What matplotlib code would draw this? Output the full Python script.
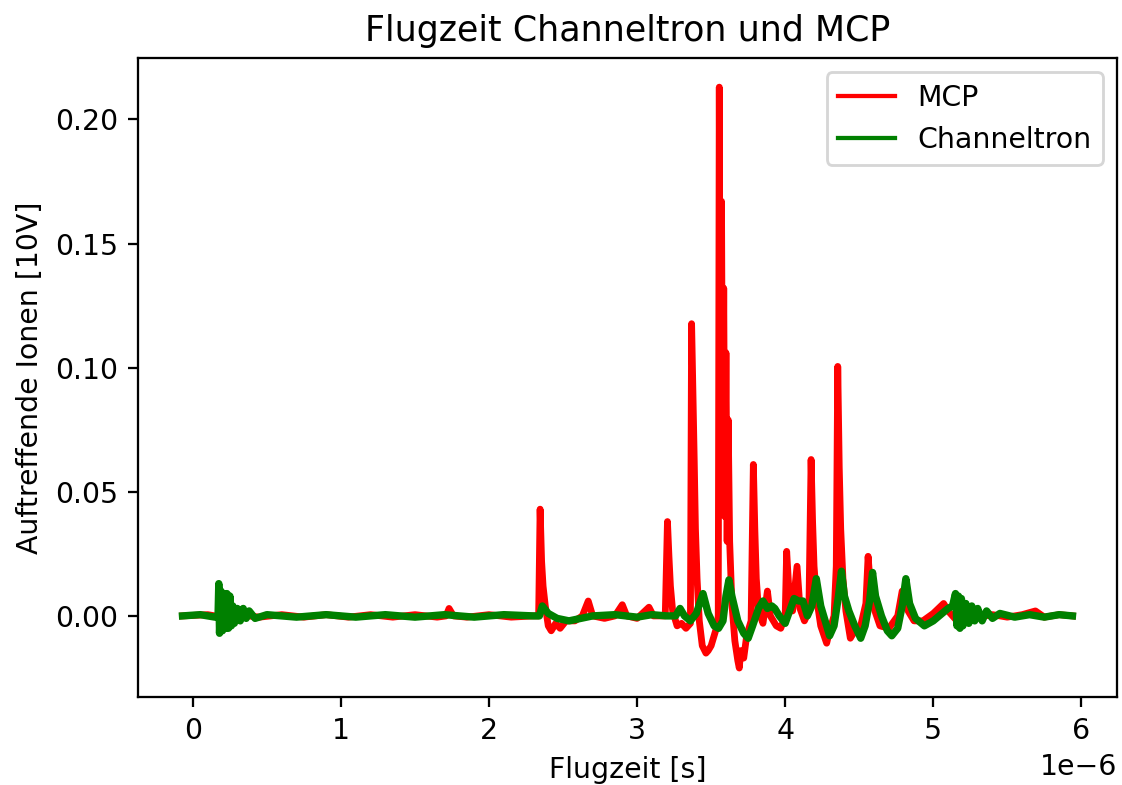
import matplotlib
matplotlib.use("Agg")
import matplotlib.pyplot as plt
import numpy as np

# flight time in microseconds, signal in units of 10 V
mcp_t = [-0.07, 0.10, 0.20, 0.30, 0.45, 0.60, 0.75, 0.90, 1.05, 1.20, 1.35, 1.50,
         1.65, 1.71, 1.73, 1.76, 1.85, 2.00, 2.15, 2.30, 2.335, 2.345, 2.355, 2.365,
         2.38, 2.40, 2.42, 2.45, 2.48, 2.52, 2.58, 2.63, 2.67, 2.70, 2.78, 2.85,
         2.90, 2.93, 3.00, 3.08, 3.11, 3.19, 3.205, 3.215, 3.225, 3.24, 3.27, 3.30,
         3.33, 3.36, 3.368, 3.378, 3.386, 3.394, 3.405, 3.42, 3.44, 3.465, 3.48, 3.50,
         3.52, 3.54, 3.548, 3.555, 3.562, 3.57, 3.578, 3.585, 3.592, 3.60, 3.608, 3.615,
         3.625, 3.64, 3.66, 3.68, 3.69, 3.70, 3.72, 3.74, 3.77, 3.785, 3.795, 3.805,
         3.82, 3.85, 3.88, 3.90, 3.94, 3.97, 4.00, 4.01, 4.03, 4.05, 4.08, 4.10,
         4.13, 4.16, 4.175, 4.185, 4.195, 4.21, 4.24, 4.28, 4.30, 4.33, 4.345, 4.355,
         4.365, 4.375, 4.39, 4.41, 4.44, 4.47, 4.51, 4.545, 4.56, 4.575, 4.60, 4.64,
         4.70, 4.76, 4.79, 4.81, 4.83, 4.87, 4.93, 5.00, 5.07, 5.10, 5.16, 5.22,
         5.30, 5.40, 5.50, 5.60, 5.69, 5.75, 5.85, 5.94]
mcp_v = [0.000, 0.0005, -0.0005, 0.0005, -0.0005, 0.0005, -0.0005, 0.0005, -0.0005, 0.0005, -0.0005, 0.0005,
         -0.0005, 0.000, 0.003, 0.000, -0.0005, 0.0005, -0.0005, 0.000, 0.000, 0.043, 0.022, 0.012,
         0.004, -0.004, -0.006, -0.003, -0.005, -0.002, -0.002, 0.000, 0.006, 0.000, -0.001, 0.000,
         0.0045, 0.000, -0.001, 0.0035, 0.000, 0.000, 0.038, 0.024, 0.012, 0.002, -0.004, -0.003,
         -0.005, -0.003, 0.1177, 0.087, 0.062, 0.035, 0.015, -0.002, -0.012, -0.015, -0.014, -0.012,
         -0.008, -0.004, 0.000, 0.213, 0.060, 0.167, 0.050, 0.132, 0.040, 0.106, 0.030, 0.079,
         0.030, 0.005, -0.010, -0.018, -0.021, -0.014, -0.017, -0.008, -0.002, 0.061, 0.035, 0.015,
         0.002, -0.003, 0.010, 0.000, -0.004, -0.005, 0.000, 0.026, 0.005, 0.002, 0.020, 0.003,
         -0.002, 0.002, 0.063, 0.038, 0.020, 0.008, -0.004, -0.011, -0.006, 0.000, 0.020, 0.1005,
         0.060, 0.035, 0.015, 0.002, -0.009, -0.006, -0.004, 0.005, 0.024, 0.012, 0.003, -0.004,
         -0.005, 0.000, 0.010, 0.006, 0.002, -0.002, -0.002, 0.001, 0.005, 0.002, -0.002, 0.001,
         -0.0005, 0.0005, -0.0005, 0.0005, 0.002, -0.0005, 0.0005, 0.000]

ch_t = [-0.07, 0.05, 0.15, 0.17, 0.175, 0.18, 0.19, 0.20, 0.21, 0.22, 0.23, 0.24,
        0.25, 0.26, 0.27, 0.28, 0.30, 0.32, 0.34, 0.36, 0.38, 0.42, 0.50, 0.70,
        0.90, 1.10, 1.30, 1.50, 1.70, 1.90, 2.10, 2.30, 2.34, 2.36, 2.40, 2.46,
        2.54, 2.62, 2.70, 2.85, 3.00, 3.10, 3.20, 3.26, 3.29, 3.32, 3.36, 3.40,
        3.445, 3.48, 3.52, 3.55, 3.58, 3.60, 3.62, 3.64, 3.68, 3.72, 3.75, 3.78,
        3.82, 3.85, 3.88, 3.91, 3.93, 3.96, 4.00, 4.03, 4.06, 4.09, 4.12, 4.15,
        4.18, 4.21, 4.24, 4.27, 4.30, 4.33, 4.36, 4.38, 4.40, 4.43, 4.47, 4.51,
        4.54, 4.57, 4.59, 4.61, 4.65, 4.69, 4.72, 4.76, 4.79, 4.815, 4.84, 4.88,
        4.94, 5.00, 5.06, 5.10, 5.13, 5.15, 5.16, 5.17, 5.18, 5.19, 5.20, 5.22,
        5.24, 5.26, 5.28, 5.30, 5.33, 5.36, 5.40, 5.45, 5.55, 5.65, 5.75, 5.85, 5.94]
ch_v = [0.000, 0.0005, -0.0005, 0.000, 0.013, -0.007, 0.010, -0.006, 0.009, -0.005, 0.009, -0.005,
        0.008, -0.004, 0.004, -0.003, 0.003, -0.002, 0.003, -0.001, 0.002, -0.001, 0.0005, -0.0005,
        0.0005, -0.0005, 0.0005, -0.0005, 0.0005, -0.0005, 0.0005, 0.000, 0.000, 0.004, 0.001, -0.001,
        -0.002, -0.001, 0.000, 0.0005, -0.0005, 0.0005, 0.000, 0.000, 0.003, 0.000, -0.002, 0.001,
        0.009, 0.001, -0.004, -0.005, -0.002, 0.008, 0.0145, 0.008, -0.002, -0.007, -0.009, -0.004,
        0.003, 0.006, 0.003, 0.004, 0.003, 0.000, -0.003, 0.002, 0.007, 0.006, 0.006, 0.000,
        0.004, 0.015, 0.004, -0.002, -0.008, -0.004, 0.008, 0.018, 0.008, 0.002, -0.004, -0.009,
        -0.004, 0.006, 0.0175, 0.008, 0.000, -0.006, -0.008, -0.005, 0.004, 0.015, 0.005, -0.001,
        -0.004, -0.002, 0.001, 0.003, 0.004, 0.009, -0.004, 0.008, -0.005, 0.007, -0.004, 0.005,
        -0.003, 0.004, -0.002, 0.003, -0.002, 0.002, -0.001, 0.001, -0.0005, 0.0005, -0.0005, 0.0005, 0.000]

mcp_t = np.array(mcp_t) * 1e-6
ch_t = np.array(ch_t) * 1e-6

dpi = 204
fig = plt.figure(figsize=(1122 / dpi, 785 / dpi), dpi=dpi)
ax = fig.add_axes([0.123, 0.112, 0.8725, 0.814])

ax.plot(mcp_t, mcp_v, color='red', linewidth=2.4, label='MCP')
ax.plot(ch_t, ch_v, color='green', linewidth=2.6, label='Channeltron')

ax.set_title('Flugzeit Channeltron und MCP', fontsize=12.3)
ax.set_xlabel('Flugzeit [s]')
ax.set_ylabel('Auftreffende Ionen [10V]')
ax.set_yticks([0.0, 0.05, 0.10, 0.15, 0.20])
leg = ax.legend(loc='upper right')
for line in leg.get_lines():
    line.set_linewidth(1.5)

fig.savefig('out.png', dpi=dpi)
